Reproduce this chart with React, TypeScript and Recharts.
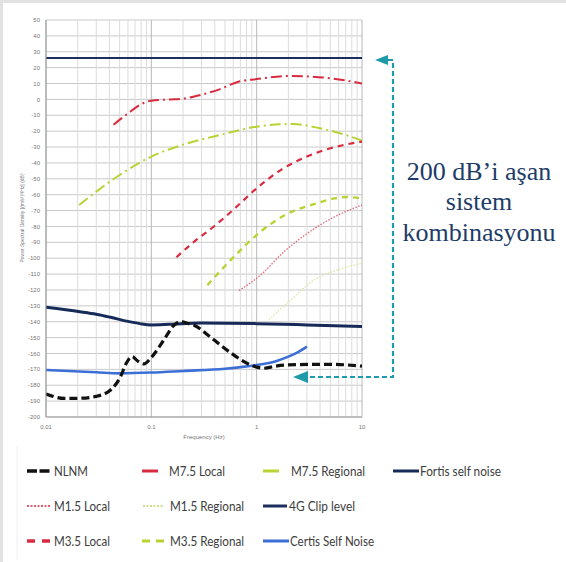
import { LineChart, Line, XAxis, YAxis, CartesianGrid, ReferenceLine } from 'recharts'

type Pt = { f: number; v: number }

// eksen değerleri
const xTicks = [0.01, 0.1, 1, 10]
const xMinor = [
  0.02, 0.03, 0.04, 0.05, 0.06, 0.07, 0.08, 0.09,
  0.2, 0.3, 0.4, 0.5, 0.6, 0.7, 0.8, 0.9,
  2, 3, 4, 5, 6, 7, 8, 9,
]
const yTicks = [
  50, 40, 30, 20, 10, 0, -10, -20, -30, -40, -50, -60, -70, -80, -90,
  -100, -110, -120, -130, -140, -150, -160, -170, -180, -190, -200,
]

// seriler (frekans Hz, dB)
const nlnm: Pt[] = [
  { f: 0.01, v: -185.5 }, { f: 0.015, v: -188.3 }, { f: 0.021, v: -188.2 },
  { f: 0.03, v: -187 }, { f: 0.041, v: -183 }, { f: 0.051, v: -174.6 },
  { f: 0.058, v: -166 }, { f: 0.0655, v: -162 }, { f: 0.075, v: -165 },
  { f: 0.085, v: -166.6 }, { f: 0.1, v: -162.5 }, { f: 0.13, v: -152 },
  { f: 0.16, v: -143 }, { f: 0.19, v: -139.8 }, { f: 0.22, v: -141 },
  { f: 0.26, v: -142.5 }, { f: 0.36, v: -149.4 }, { f: 0.57, v: -159.7 },
  { f: 0.88, v: -167.3 }, { f: 1.17, v: -169.3 }, { f: 1.5, v: -168 },
  { f: 2, v: -167.2 }, { f: 5, v: -166.8 }, { f: 10, v: -168 },
]
const m75Local: Pt[] = [
  { f: 0.0437, v: -16 }, { f: 0.06, v: -8.8 }, { f: 0.08, v: -3 },
  { f: 0.1, v: -0.8 }, { f: 0.15, v: 0 }, { f: 0.2, v: 0.5 },
  { f: 0.3, v: 3 }, { f: 0.45, v: 6.5 }, { f: 0.66, v: 11 },
  { f: 1, v: 12.8 }, { f: 2, v: 14.7 }, { f: 3, v: 14.5 },
  { f: 5, v: 13.3 }, { f: 10, v: 10 },
]
const m75Regional: Pt[] = [
  { f: 0.0206, v: -66.5 }, { f: 0.05, v: -47.6 }, { f: 0.1, v: -36 },
  { f: 0.2, v: -28.5 }, { f: 0.45, v: -22.4 }, { f: 1, v: -17.2 },
  { f: 2.2, v: -15.5 }, { f: 4, v: -18.2 }, { f: 8.2, v: -23.9 }, { f: 10, v: -26 },
]
const m35Local: Pt[] = [
  { f: 0.173, v: -99.4 }, { f: 0.25, v: -90 }, { f: 0.39, v: -80.2 },
  { f: 0.6, v: -69.5 }, { f: 1, v: -56 }, { f: 1.69, v: -44.5 },
  { f: 3, v: -36 }, { f: 5, v: -30.8 }, { f: 10, v: -26.6 },
]
const m35Regional: Pt[] = [
  { f: 0.34, v: -117 }, { f: 0.61, v: -99 }, { f: 1.09, v: -83.3 },
  { f: 1.96, v: -72 }, { f: 3.5, v: -66 }, { f: 5.5, v: -62.3 },
  { f: 7.2, v: -61.5 }, { f: 10, v: -62.5 },
]
const m15Local: Pt[] = [
  { f: 0.68, v: -120.4 }, { f: 1.09, v: -110.6 }, { f: 1.82, v: -95.9 },
  { f: 3.04, v: -84.3 }, { f: 5.5, v: -73.9 }, { f: 10, v: -66.5 },
]
const m15Regional: Pt[] = [
  { f: 1.31, v: -138.5 }, { f: 2.11, v: -126.3 }, { f: 3.5, v: -113.7 },
  { f: 5.87, v: -107.4 }, { f: 10, v: -103.2 },
]
const fortis: Pt[] = [
  { f: 0.01, v: -130.9 }, { f: 0.021, v: -133.7 }, { f: 0.03, v: -135.3 },
  { f: 0.041, v: -137.2 }, { f: 0.06, v: -139.8 }, { f: 0.078, v: -141.2 },
  { f: 0.1, v: -142 }, { f: 0.15, v: -141.6 }, { f: 0.3, v: -140.8 },
  { f: 1, v: -141.2 }, { f: 3, v: -142 }, { f: 10, v: -143 },
]
const clip4g: Pt[] = [{ f: 0.01, v: 26 }, { f: 10, v: 26 }]
const certis: Pt[] = [
  { f: 0.01, v: -170.4 }, { f: 0.03, v: -171.8 }, { f: 0.05, v: -172.5 },
  { f: 0.1, v: -172 }, { f: 0.2, v: -171 }, { f: 0.5, v: -169.6 },
  { f: 1, v: -167.3 }, { f: 1.5, v: -165 }, { f: 2, v: -162 },
  { f: 2.5, v: -159 }, { f: 3, v: -155.7 },
]

const RED = '#d92b40'
const GREEN = '#b9d334'
const NAVY = '#1c2f5c'
const BLUE = '#3b6fd6'
const TEAL = '#1e9aa9'

// çizim sırası
const series = [
  { key: 'clip', data: clip4g, color: NAVY, w: 2, dash: undefined as string | undefined, type: 'linear' },
  { key: 'm75l', data: m75Local, color: RED, w: 2, dash: '11 4 2 4', type: 'monotone' },
  { key: 'm75r', data: m75Regional, color: GREEN, w: 2, dash: '11 4 2 4', type: 'monotone' },
  { key: 'm35l', data: m35Local, color: RED, w: 2.2, dash: '6 5', type: 'monotone' },
  { key: 'm35r', data: m35Regional, color: GREEN, w: 2.4, dash: '6 5', type: 'monotone' },
  { key: 'm15l', data: m15Local, color: '#e0667a', w: 1.3, dash: '1.5 1.5', type: 'monotone' },
  { key: 'm15r', data: m15Regional, color: '#d8e9a0', w: 1.3, dash: '1.5 1.5', type: 'monotone' },
  { key: 'fortis', data: fortis, color: '#172b58', w: 3, dash: undefined, type: 'monotone' },
  { key: 'certis', data: certis, color: BLUE, w: 2.6, dash: undefined, type: 'monotone' },
  { key: 'nlnm', data: nlnm, color: '#111', w: 3.2, dash: '8 4', type: 'monotone' },
]

// lejant: metin genişlikleri referanstan (Calibri benzeri dar yazı)
const legendItems = [
  { label: 'NLNM', x1: 27, x2: 50, tx: 54, tw: 34, row: 0, color: '#111', w: 3.5, dash: '10 2.5' },
  { label: 'M7.5 Local', x1: 142, x2: 158, tx: 169, tw: 56, row: 0, color: RED, w: 3, dash: undefined as string | undefined },
  { label: 'M7.5 Regional', x1: 263, x2: 279, tx: 291, tw: 74, row: 0, color: GREEN, w: 3, dash: undefined },
  { label: 'Fortis self noise', x1: 393, x2: 419, tx: 420, tw: 81, row: 0, color: '#172b58', w: 3, dash: undefined },
  { label: 'M1.5 Local', x1: 27, x2: 50, tx: 54, tw: 56, row: 1, color: RED, w: 1.5, dash: '2 1.5' },
  { label: 'M1.5 Regional', x1: 143, x2: 163, tx: 170, tw: 74, row: 1, color: '#b9d86a', w: 1.5, dash: '2 1.5' },
  { label: '4G Clip level', x1: 263, x2: 287, tx: 289, tw: 66, row: 1, color: NAVY, w: 3, dash: undefined },
  { label: 'M3.5 Local', x1: 27, x2: 50, tx: 54, tw: 56, row: 2, color: RED, w: 3.5, dash: '8 7' },
  { label: 'M3.5 Regional', x1: 142, x2: 165, tx: 170, tw: 74, row: 2, color: GREEN, w: 3, dash: '8 6' },
  { label: 'Certis Self Noise', x1: 263, x2: 289, tx: 290, tw: 84, row: 2, color: BLUE, w: 3, dash: undefined },
]
const rowY = [471, 506, 541]

export default function App() {
  return (
    <div style={{ position: 'absolute', left: 0, top: 0, width: 566, height: 562, background: '#fff', overflow: 'hidden' }}>
      <div style={{ position: 'absolute', left: 0, top: 0, width: 566, height: 3, background: '#e2e2e2' }} />
      <div style={{ position: 'absolute', left: 0, top: 0, width: 3, height: 562, background: '#e2e2e2' }} />
      <div style={{ position: 'absolute', left: 0, top: 0 }}>
        <LineChart width={566} height={445} margin={{ top: 20, right: 204, bottom: 0, left: 0 }}>
          <CartesianGrid vertical={false} stroke="#c9c9c9" strokeWidth={1} />
          {xMinor.map(v => (
            <ReferenceLine key={'m' + v} x={v} stroke="#dcdcdc" strokeWidth={1} />
          ))}
          {xTicks.map(v => (
            <ReferenceLine key={'M' + v} x={v} stroke="#b8b8b8" strokeWidth={1} />
          ))}
          <XAxis
            type="number"
            dataKey="f"
            scale="log"
            domain={[0.01, 10]}
            ticks={xTicks}
            allowDataOverflow
            height={28}
            tickLine={false}
            axisLine={{ stroke: '#999' }}
            tickFormatter={(v: number) => String(v)}
            tick={{ fontSize: 6, fill: '#777', fontFamily: 'Liberation Sans' }}
            tickMargin={2}
          />
          <YAxis
            type="number"
            dataKey="v"
            domain={[-200, 50]}
            ticks={yTicks}
            interval={0}
            width={46}
            tickLine={false}
            tickSize={4}
            tickMargin={2}
            axisLine={{ stroke: '#999' }}
            tick={{ fontSize: 6, fill: '#777', fontFamily: 'Liberation Sans' }}
          />
          {series.map(s => (
            <Line
              key={s.key}
              data={s.data}
              dataKey="v"
              type={s.type as any}
              stroke={s.color}
              strokeWidth={s.w}
              strokeDasharray={s.dash}
              dot={false}
              activeDot={false}
              isAnimationActive={false}
            />
          ))}
        </LineChart>
      </div>
      <svg width={566} height={562} style={{ position: 'absolute', left: 0, top: 0, pointerEvents: 'none' }}>
        <text x={22} y={218} transform="rotate(-90 22 218)" textAnchor="middle" dominantBaseline="central"
          fontSize={5} fill="#777" fontFamily="Liberation Sans">
          Power Spectral Density [(m/s²)²/Hz] (dB)
        </text>
        <text x={204} y={437} textAnchor="middle" dominantBaseline="central" fontSize={6} fill="#777" fontFamily="Liberation Sans">
          Frequency (Hz)
        </text>

        {/* açıklama oku */}
        <path d="M388 60 H393 V377 H308" fill="none" stroke={TEAL} strokeWidth={2.2} strokeDasharray="5 3" />
        <polygon points="375,60 388,55 388,65" fill={TEAL} />
        <polygon points="293,377 308,371 308,383" fill={TEAL} />
        <g fontFamily="Liberation Serif" fontSize={26} fill="#1d3c68" textAnchor="middle">
          <text x={479} y={180}>200 dB’i aşan</text>
          <text x={479} y={210}>sistem</text>
          <text x={479} y={241}>kombinasyonu</text>
        </g>

        {/* lejant */}
        <line x1={17} y1={446} x2={17} y2={560} stroke="#eee" strokeWidth={1} />
        {legendItems.map(it => (
          <g key={it.label}>
            <line x1={it.x1} y1={rowY[it.row]} x2={it.x2} y2={rowY[it.row]} stroke={it.color}
              strokeWidth={it.w} strokeDasharray={it.dash} />
            <text x={it.tx} y={rowY[it.row]} dominantBaseline="central" fontSize={13.5}
              textLength={it.tw} lengthAdjust="spacingAndGlyphs"
              fontFamily="Lato" fill="#3d3d3d">{it.label}</text>
          </g>
        ))}
      </svg>
    </div>
  )
}
